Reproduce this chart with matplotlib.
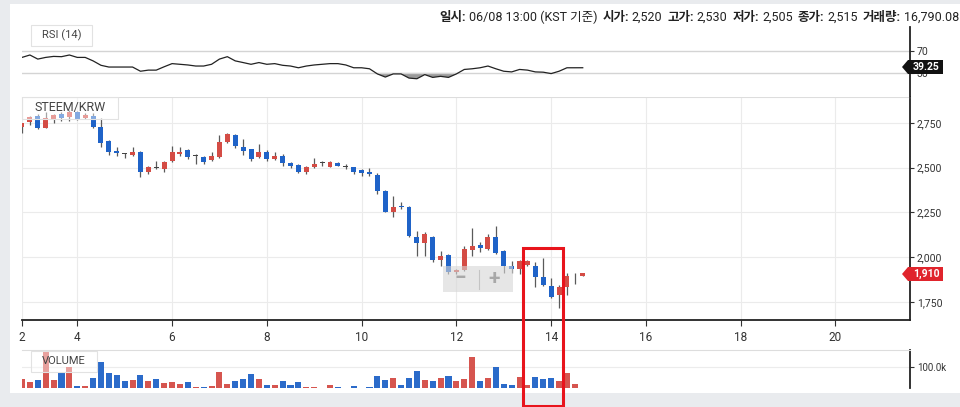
import matplotlib
matplotlib.use("Agg")
import matplotlib.pyplot as plt
import matplotlib.dates as mdates
from matplotlib.patches import Rectangle, Polygon
from matplotlib.lines import Line2D
import numpy as np
import pandas as pd

plt.rcParams['font.family'] = ['Roboto', 'Noto Sans CJK KR', 'DejaVu Sans']

# 4시간봉 STEEM/KRW (6/2 20:00 ~ 6/13 16:00)
times = pd.date_range("2018-06-02 20:00", periods=72, freq="4h")
opens = [2728, 2754, 2791, 2724, 2772, 2800, 2785, 2813, 2776, 2791, 2729, 2650,
         2594, 2578, 2571, 2590, 2478, 2497, 2493, 2538, 2575, 2600, 2568, 2562,
         2544, 2559, 2646, 2683, 2618, 2603, 2559, 2590, 2549, 2566, 2525, 2516,
         2478, 2503, 2525, 2506, 2528, 2506, 2503, 2488, 2478, 2460, 2367, 2255,
         2287, 2280, 2112, 2082, 2112, 1982, 2010, 1915, 1926, 2041, 2069, 2045,
         2112, 2032, 1949, 1934, 1958, 1952, 1889, 1840, 1790, 1836, 1898, 1896]
highs = [2752, 2790, 2800, 2813, 2800, 2810, 2820, 2818, 2803, 2803, 2780, 2655,
         2618, 2584, 2618, 2595, 2510, 2538, 2540, 2623, 2618, 2604, 2576, 2566,
         2590, 2683, 2696, 2690, 2659, 2606, 2633, 2600, 2586, 2575, 2530, 2520,
         2510, 2553, 2540, 2540, 2532, 2520, 2506, 2492, 2500, 2470, 2375, 2343,
         2311, 2285, 2144, 2140, 2118, 2032, 2015, 1935, 2063, 2162, 2085, 2131,
         2175, 2040, 1977, 1985, 1982, 1971, 1995, 1883, 1845, 1911, 1911, 1912]
lows = [2695, 2740, 2715, 2720, 2750, 2761, 2760, 2765, 2770, 2722, 2618, 2571,
        2568, 2555, 2566, 2450, 2464, 2490, 2478, 2534, 2568, 2550, 2520, 2520,
        2540, 2555, 2640, 2611, 2571, 2536, 2555, 2540, 2545, 2508, 2500, 2470,
        2467, 2500, 2512, 2503, 2508, 2490, 2465, 2454, 2455, 2354, 2250, 2227,
        2270, 2110, 2004, 2004, 1975, 1952, 1905, 1905, 1920, 2004, 2030, 2040,
        2020, 1911, 1911, 1907, 1950, 1833, 1840, 1770, 1716, 1790, 1852, 1893]
closes = [2748, 2785, 2724, 2776, 2795, 2780, 2813, 2772, 2795, 2729, 2637, 2587,
          2580, 2578, 2590, 2478, 2506, 2497, 2534, 2590, 2590, 2562, 2568, 2534,
          2566, 2646, 2689, 2622, 2595, 2547, 2590, 2547, 2566, 2525, 2508, 2478,
          2503, 2521, 2525, 2531, 2512, 2506, 2475, 2473, 2466, 2367, 2255, 2280,
          2278, 2116, 2082, 2131, 1982, 2008, 1915, 1930, 2045, 2060, 2051, 2112,
          2026, 1952, 1934, 1977, 1977, 1889, 1846, 1777, 1836, 1896, 1898, 1910]
volumes = [43, 27, 40, 179, 40, 76, 100, 8, 11, 48, 124, 71,
           63, 32, 40, 63, 32, 44, 24, 27, 19, 27, 6, 3,
           8, 75, 21, 35, 43, 67, 43, 13, 16, 32, 13, 27,
           6, 6, 1, 13, 3, 1, 8, 2, 5, 59, 40, 48,
           16, 48, 83, 40, 32, 48, 59, 35, 44, 148, 32, 48,
           100, 21, 16, 52, 16, 51, 43, 48, 35, 71, 21, 1]
rsi = [57.7, 62, 54.7, 57.7, 59.5, 59, 62, 57.7, 57.7, 51.5, 43.6, 40.5,
       40.5, 40.5, 40.5, 33, 35, 35, 41, 46.6, 45.4, 44.2, 42.3, 42.3,
       45.4, 54.7, 59, 51.5, 48.5, 45.4, 48.5, 45.4, 46.6, 43.6, 42.3, 39.2,
       42.3, 44.2, 45.4, 46.6, 46.6, 44.2, 39.2, 39.2, 37.4, 28.2, 22.6, 28.2,
       28.2, 20.8, 19.6, 27, 22, 23.9, 22, 28.2, 36.2, 37.4, 39.2, 42.3,
       37.4, 33, 31.8, 36.2, 35, 31.8, 31.3, 28.8, 33, 39.2, 39.2, 39.25]

price_ticks = [1750, 2000, 2250, 2500, 2750]
day_ticks = ["2018-06-04", "2018-06-06", "2018-06-08", "2018-06-10", "2018-06-12",
             "2018-06-14", "2018-06-16", "2018-06-18", "2018-06-20"]
header_labels = ["일시:", "시가:", "고가:", "저가:", "종가:", "거래량:"]
header_values = ["06/08 13:00 (KST 기준)", "2,520", "2,530", "2,505", "2,515", "16,790.08"]
last_price = "1,910"
last_rsi = "39.25"

RED = "#d44c45"
BLUE = "#1f63c8"
W, H = 960, 407


def px_axes(fig, x0, y0, x1, y1):
    return fig.add_axes([x0 / W, 1 - y1 / H, (x1 - x0) / W, (y1 - y0) / H])


def px_rect(x0, y0, x1, y1, **kw):
    return Rectangle((x0 / W, 1 - y1 / H), (x1 - x0) / W, (y1 - y0) / H,
                     transform=fig.transFigure, **kw)


def px_text(x, y, s, **kw):
    return fig.text(x / W, 1 - y / H, s, **kw)


fig = plt.figure(figsize=(9.6, 4.07), dpi=100, facecolor="#e9ebee")
fig.add_artist(px_rect(10, 4, 960, 393, facecolor="white", edgecolor="none", zorder=-5))

x = mdates.date2num(times)
o = np.array(opens, float)
c = np.array(closes, float)
vol = np.array(volumes, float) * 1000
xlim = (x[0], mdates.date2num(pd.Timestamp("2018-06-21 13:45")))

colors = []
for i in range(len(o)):
    if c[i] > o[i]:
        colors.append(RED)
    elif c[i] < o[i]:
        colors.append(BLUE)
    else:
        colors.append(RED if i > 0 and c[i] >= c[i - 1] else BLUE)

# ---- 가격 차트
ax = px_axes(fig, 22, 97, 910, 320)
ax.vlines(x, lows, highs, colors="#5a5a5a", lw=0.9, zorder=2)
body_col = [col if c[i] != o[i] else "#444444" for i, col in enumerate(colors)]
ax.bar(x, np.maximum(np.abs(c - o), 5), bottom=np.minimum(o, c), width=0.105,
       color=body_col, linewidth=0, zorder=3)
ax.set_xlim(*xlim)
ax.set_ylim(1649, 2895)
xt = [x[0]] + [mdates.date2num(pd.Timestamp(d)) for d in day_ticks]
ax.set_xticks(xt)
ax.set_xticklabels(["2"] + [str(pd.Timestamp(d).day) for d in day_ticks])
ax.set_yticks(price_ticks)
ax.set_yticklabels([f"{p:,}" for p in price_ticks])
ax.grid(True, color="#ebebeb", lw=0.8)
ax.set_axisbelow(True)
ax.spines["left"].set_visible(False)
ax.spines["top"].set_color("#dddddd")
ax.spines["bottom"].set_color("#222222")
ax.spines["right"].set_color("#222222")
ax.spines["bottom"].set_linewidth(1.3)
ax.spines["right"].set_linewidth(1.3)
ax.tick_params(axis="y", right=True, left=False, labelright=True, labelleft=False,
               length=3, pad=2, labelsize=7.5, colors="#333333")
ax.tick_params(axis="x", length=4, pad=4, labelsize=8.5, colors="#333333")

# ---- 거래량
ax_v = px_axes(fig, 22, 350, 910, 388)
ax_v.bar(x, vol, width=0.128, color=colors, linewidth=0, alpha=0.95)
ax_v.set_xlim(*xlim)
ax_v.set_ylim(0, 181000)
ax_v.set_xticks([])
ax_v.set_yticks([100000])
ax_v.set_yticklabels(["100.0k"])
ax_v.grid(True, axis="y", color="#ececec", lw=0.8)
ax_v.set_axisbelow(True)
for s in ["left", "bottom"]:
    ax_v.spines[s].set_visible(False)
ax_v.spines["top"].set_color("#dddddd")
ax_v.spines["right"].set_color("#222222")
ax_v.spines["right"].set_linewidth(1.3)
ax_v.tick_params(axis="y", right=True, left=False, labelright=True, labelleft=False,
                 length=3, pad=2, labelsize=7, colors="#333333")

# ---- RSI
ax_r = px_axes(fig, 22, 27, 910, 97)
r = np.array(rsi)
ax_r.axhline(70, color="#d4d4d4", lw=1)
ax_r.axhline(30, color="#d4d4d4", lw=1)
ax_r.plot(x, r, color="#222222", lw=0.9)
ax_r.fill_between(x, r, 30, where=r < 30, interpolate=True, color="#9a9a9a", lw=0)
ax_r.set_xlim(*xlim)
ax_r.set_ylim(-13, 112)
ax_r.set_xticks([])
ax_r.set_yticks([70, 30])
for s in ["left", "bottom", "top"]:
    ax_r.spines[s].set_visible(False)
ax_r.spines["right"].set_color("#222222")
ax_r.spines["right"].set_linewidth(1.3)
ax_r.tick_params(axis="y", right=True, left=False, labelright=True, labelleft=False,
                 length=3, pad=2, labelsize=7.5, colors="#333333")

# ---- 패널 라벨
for (x0, y0, x1, y1, label, fs) in [(31, 25, 92, 46, "RSI (14)", 8),
                                     (22, 97, 118, 119, "STEEM/KRW", 9),
                                     (31, 351, 97, 372, "VOLUME", 8)]:
    fig.add_artist(px_rect(x0, y0, x1, y1, facecolor=(1, 1, 1, 0.45),
                           edgecolor="#e2e2e2", lw=0.8, zorder=5))
    px_text((x0 + x1) / 2, (y0 + y1) / 2, label, ha="center", va="center",
            fontsize=fs, color="#444444", zorder=6)

# ---- 현재가 / RSI 태그
for (yc, txt, fc) in [(274, last_price, "#e0242c"), (67, last_rsi, "#111111")]:
    pts = [(902, yc), (908, yc - 7), (943, yc - 7), (943, yc + 7), (908, yc + 7)]
    fig.add_artist(Polygon([(a / W, 1 - b / H) for a, b in pts], closed=True,
                           transform=fig.transFigure, facecolor=fc, edgecolor="none", zorder=7))
    px_text(926, yc, txt, ha="center", va="center", fontsize=7.5, color="white",
            fontweight="bold", zorder=8)

# ---- 확대/축소 컨트롤
fig.add_artist(px_rect(443, 266, 513, 292, facecolor="#d6d6d6", edgecolor="none",
                       alpha=0.6, zorder=7))
fig.add_artist(Line2D([479 / W, 479 / W], [1 - 270 / H, 1 - 289 / H], color="#c4c4c4",
                      lw=0.8, transform=fig.transFigure, zorder=8))
px_text(460, 279, "−", ha="center", va="center", fontsize=15, color="#a8a8a8",
        fontweight="bold", zorder=8)
px_text(494, 278.5, "+", ha="center", va="center", fontsize=15, color="#a8a8a8",
        fontweight="bold", zorder=8)

# ---- 빨간 강조 박스
fig.add_artist(px_rect(523, 248, 563, 406, fill=False, edgecolor="#e8141c", lw=2.2, zorder=9))

# ---- 상단 정보 (오른쪽 정렬)
renderer = fig.canvas.get_renderer()
pieces = []
for lab, val in zip(header_labels, header_values):
    pieces.append((lab, "bold", 3))
    pieces.append((val, "normal", 5))
texts, total = [], 0
for s, wgt, gap in pieces:
    t = px_text(0, 17, s, ha="left", va="center", fontsize=9, fontweight=wgt,
                color="#222222")
    wdt = t.get_window_extent(renderer).width
    texts.append((t, wdt, gap))
    total += wdt + gap
cx = 959 - total + pieces[-1][2]
for t, wdt, gap in texts:
    t.set_x(cx / W)
    cx += wdt + gap

fig.savefig("out.png", dpi=100, facecolor=fig.get_facecolor())
